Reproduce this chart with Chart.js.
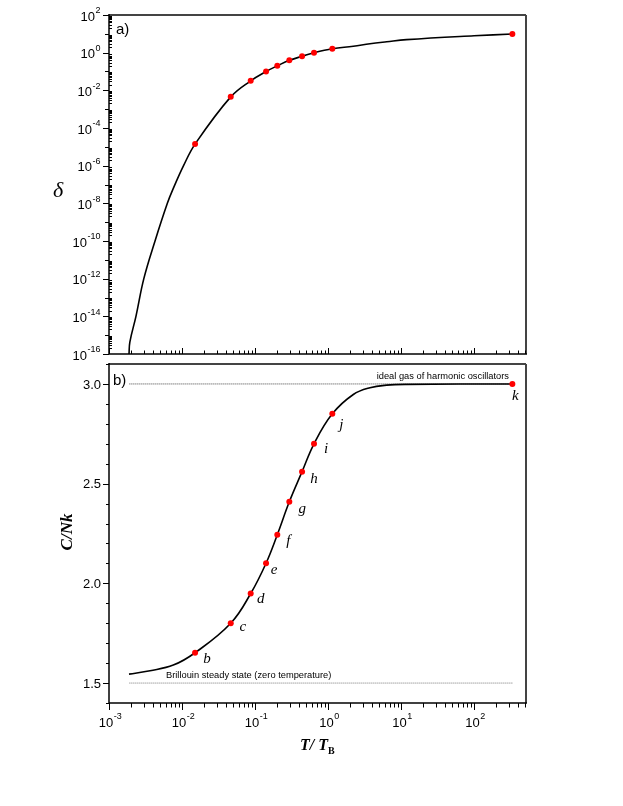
<!DOCTYPE html>
<html>
<head>
<meta charset="utf-8">
<script src="https://cdn.jsdelivr.net/npm/chart.js@4/dist/chart.umd.min.js"></script>
<style>
  body { margin: 0; background: #fff; }
  #wrap { position: relative; width: 623px; height: 806px; }
  canvas { position: absolute; left: 0; }
  #top { top: 0; }
  #bottom { top: 356px; }
</style>
</head>
<body>
<div id="wrap">
  <canvas id="top" width="623" height="360"></canvas>
  <canvas id="bottom" width="623" height="450"></canvas>
</div>
<script>
// marked states b..k
var ptT = [0.0151, 0.0465, 0.0873, 0.1416, 0.202, 0.295, 0.441, 0.643, 1.145, 335]
var ptDelta = [1.4e-5, 4.5e-3, 0.032, 0.10, 0.20, 0.39, 0.64, 1.0, 1.63, 9.8]
var ptC = [1.652, 1.80, 1.949, 2.101, 2.244, 2.409, 2.56, 2.70, 2.85, 3.0]
var ptLabels = ['b', 'c', 'd', 'e', 'f', 'g', 'h', 'i', 'j', 'k']

// solid curves
var deltaCurveT = [0.00188, 0.00193, 0.00234, 0.0030, 0.00427, 0.0063, 0.0075, 0.0105, 0.0151, 0.0465, 0.0873, 0.1416, 0.202, 0.295, 0.441, 0.643, 1.145, 2.22, 3.76, 6.37, 11.9, 100, 335]
var deltaCurve = [1e-16, 4.3e-16, 1e-14, 1e-12, 1e-10, 1e-8, 5.5e-8, 1e-6, 1.4e-5, 4.5e-3, 0.032, 0.10, 0.20, 0.39, 0.64, 1.0, 1.63, 2.2, 3.0, 3.8, 4.9, 7.9, 9.8]
var cCurveT = [0.00188, 0.00365, 0.0076, 0.0151, 0.0465, 0.0873, 0.1416, 0.202, 0.295, 0.441, 0.643, 1.145, 2.22, 3.76, 6.37, 11.9, 335]
var cCurve = [1.545, 1.562, 1.59, 1.652, 1.80, 1.949, 2.101, 2.244, 2.409, 2.56, 2.70, 2.85, 2.947, 2.981, 2.994, 2.998, 3.0]

// dotted limits
var refT = [0.0019, 335]
var idealC = [3.0, 3.0]
var brillouinC = [1.5, 1.5]

// ticks
var xTickExps = [-3, -2, -1, 0, 1, 2]
var deltaTickExps = [2, 0, -2, -4, -6, -8, -10, -12, -14, -16]
var cTicks = [1.5, 2.0, 2.5, 3.0]

var SANS = '"Liberation Sans", Arial, sans-serif'
var SERIF = '"Liberation Serif", "Times New Roman", serif'

function pts(xs, ys) {
  return xs.map(function (x, i) { return { x: x, y: ys[i] } })
}

function drawPow(ctx, exp, x, y, align) {
  ctx.font = '13px ' + SANS
  var w1 = ctx.measureText('10').width
  ctx.font = '9px ' + SANS
  var e = String(exp)
  var w2 = ctx.measureText(e).width
  var left = align === 'right' ? x - w1 - w2 : x - (w1 + w2) / 2
  ctx.textAlign = 'left'
  ctx.textBaseline = 'middle'
  ctx.font = '13px ' + SANS
  ctx.fillText('10', left, y)
  ctx.font = '9px ' + SANS
  ctx.fillText(e, left + w1 + 0.5, y - 6)
}

function line(ctx, x1, y1, x2, y2) {
  ctx.beginPath()
  ctx.moveTo(x1, y1)
  ctx.lineTo(x2, y2)
  ctx.stroke()
}

function logTicks(minExp, maxExp, maxVal) {
  var out = []
  for (var e = minExp; e <= maxExp; e++) {
    for (var m = 1; m <= 9; m++) {
      var v = m * Math.pow(10, e)
      if (v <= maxVal * 1.0001) out.push({ v: v, e: e, major: m === 1 })
    }
  }
  return out
}

function drawFrame(ctx, a) {
  ctx.strokeStyle = '#444'
  ctx.lineWidth = 2
  line(ctx, a.left, a.top, a.right, a.top)
  line(ctx, a.right, a.top, a.right, a.bottom)
  ctx.strokeStyle = '#000'
  ctx.lineWidth = 1.5
  line(ctx, a.left, a.top - 1, a.left, a.bottom)
  line(ctx, a.left, a.bottom, a.right + 1, a.bottom)
}

var topDecor = {
  id: 'topDecor',
  afterDraw: function (chart) {
    var ctx = chart.ctx, a = chart.chartArea
    var xs = chart.scales.x, ys = chart.scales.y
    ctx.save()
    drawFrame(ctx, a)
    ctx.strokeStyle = '#000'
    ctx.lineWidth = 1
    // x ticks, pointing inwards
    logTicks(-3, 2, xs.max).forEach(function (t) {
      var px = Math.round(xs.getPixelForValue(t.v)) + 0.5
      line(ctx, px, a.bottom, px, a.bottom - (t.major ? 6 : 3.5))
    })
    // y ticks: decades outward, minors inward
    logTicks(-16, 1, 100).concat([{ v: 100, e: 2, major: true }]).forEach(function (t) {
      var py = Math.round(ys.getPixelForValue(t.v)) + 0.5
      if (t.major) {
        var len = (t.e % 2 === 0) ? 6 : 4
        line(ctx, a.left - len, py, a.left, py)
      } else {
        line(ctx, a.left, py, a.left + 3, py)
      }
    })
    ctx.fillStyle = '#000'
    deltaTickExps.forEach(function (e) {
      drawPow(ctx, e, 100, ys.getPixelForValue(Math.pow(10, e)) + 2, 'right')
    })
    ctx.font = '15px ' + SANS
    ctx.textAlign = 'left'
    ctx.textBaseline = 'middle'
    ctx.fillText('a)', 116, 30)
    ctx.font = 'italic 22px ' + SERIF
    ctx.textAlign = 'center'
    ctx.fillText('\u03B4', 58, 191)
    ctx.restore()
  }
}

var bottomDecor = {
  id: 'bottomDecor',
  afterDraw: function (chart) {
    var ctx = chart.ctx, a = chart.chartArea
    var xs = chart.scales.x, ys = chart.scales.y
    ctx.save()
    drawFrame(ctx, a)
    ctx.strokeStyle = '#000'
    ctx.lineWidth = 1
    logTicks(-3, 2, xs.max).forEach(function (t) {
      var px = Math.round(xs.getPixelForValue(t.v)) + 0.5
      line(ctx, px, a.bottom, px, a.bottom + (t.major ? 7 : 4.5))
    })
    for (var k = 14; k <= 31; k++) {
      var v = k / 10
      var py = Math.round(ys.getPixelForValue(v)) + 0.5
      var major = k % 5 === 0
      line(ctx, a.left - (major ? 6 : 3), py, a.left, py)
    }
    ctx.fillStyle = '#000'
    ctx.font = '13px ' + SANS
    ctx.textAlign = 'right'
    ctx.textBaseline = 'middle'
    cTicks.forEach(function (v) {
      ctx.fillText(v.toFixed(1), 101, ys.getPixelForValue(v) + 1)
    })
    xTickExps.forEach(function (e) {
      drawPow(ctx, e, xs.getPixelForValue(Math.pow(10, e)) + 1, a.bottom + 20, 'center')
    })
    ctx.font = '15px ' + SANS
    ctx.textAlign = 'left'
    ctx.fillText('b)', 113, a.top + 17)

    // notes on the limits
    ctx.font = '9.3px ' + SANS
    ctx.textAlign = 'right'
    ctx.fillText('ideal gas of harmonic oscillators', 509, ys.getPixelForValue(3.0) - 8)
    ctx.textAlign = 'left'
    ctx.fillText('Brillouin steady state (zero temperature)', 166, ys.getPixelForValue(1.5) - 8)

    // point letters
    var off = [[12, 6], [12, 4], [10, 6], [8, 7], [11, 6], [13, 7], [12, 7], [12, 5], [9, 11], [3, 12]]
    var meta = chart.getDatasetMeta(0)
    ctx.font = 'italic 15px ' + SERIF
    ctx.textAlign = 'center'
    meta.data.forEach(function (p, i) {
      ctx.fillText(ptLabels[i], p.x + off[i][0], p.y + off[i][1])
    })

    // axis titles
    ctx.save()
    ctx.translate(68, 532 - 356)
    ctx.rotate(-Math.PI / 2)
    ctx.font = 'italic bold 17px ' + SERIF
    ctx.textAlign = 'center'
    ctx.fillText('C/Nk', 0, 0)
    ctx.restore()
    ctx.font = 'italic bold 16px ' + SERIF
    ctx.textAlign = 'left'
    var ty = 746 - 356
    ctx.fillText('T/ T', 300, ty)
    var w = ctx.measureText('T/ T').width
    ctx.font = 'bold 10px ' + SERIF
    ctx.fillText('B', 300 + w, ty + 5)
    ctx.restore()
  }
}

function xScale(h) {
  return {
    type: 'logarithmic', min: 0.001, max: 515,
    grid: { display: false }, border: { display: false },
    ticks: { display: false },
    afterFit: function (s) { s.height = h }
  }
}

function yAxis(type, min, max) {
  return {
    type: type, min: min, max: max,
    grid: { display: false }, border: { display: false },
    ticks: { display: false },
    afterFit: function (s) { s.width = 109 }
  }
}

var common = {
  responsive: false,
  animation: false,
  devicePixelRatio: 1,
  plugins: { legend: { display: false }, tooltip: { enabled: false } }
}

// first dataset is drawn on top, so the red dots come first
new Chart(document.getElementById('top'), {
  type: 'scatter',
  data: {
    datasets: [
      {
        data: pts(ptT, ptDelta), pointRadius: 3,
        backgroundColor: '#ff0000', borderWidth: 0
      },
      {
        data: pts(deltaCurveT, deltaCurve), showLine: true,
        borderColor: '#000', borderWidth: 1.6, pointRadius: 0,
        tension: 0.4
      }
    ]
  },
  options: Object.assign({}, common, {
    layout: { padding: { left: 0, right: 97, top: 15, bottom: 0 } },
    scales: { x: xScale(6), y: yAxis('logarithmic', 1e-16, 100) }
  }),
  plugins: [topDecor]
})

new Chart(document.getElementById('bottom'), {
  type: 'scatter',
  data: {
    datasets: [
      {
        data: pts(ptT, ptC), pointRadius: 3,
        backgroundColor: '#ff0000', borderWidth: 0
      },
      {
        data: pts(cCurveT, cCurve), showLine: true,
        borderColor: '#000', borderWidth: 1.6, pointRadius: 0,
        tension: 0.4
      },
      {
        data: pts(refT, idealC), showLine: true, pointRadius: 0,
        borderColor: '#444', borderWidth: 1, borderDash: [1, 1]
      },
      {
        data: pts(refT, brillouinC), showLine: true, pointRadius: 0,
        borderColor: '#777', borderWidth: 1, borderDash: [1, 1]
      }
    ]
  },
  options: Object.assign({}, common, {
    layout: { padding: { left: 0, right: 97, top: 8, bottom: 0 } },
    scales: { x: xScale(103), y: yAxis('linear', 1.4, 3.1) }
  }),
  plugins: [bottomDecor]
})
</script>
</body>
</html>
